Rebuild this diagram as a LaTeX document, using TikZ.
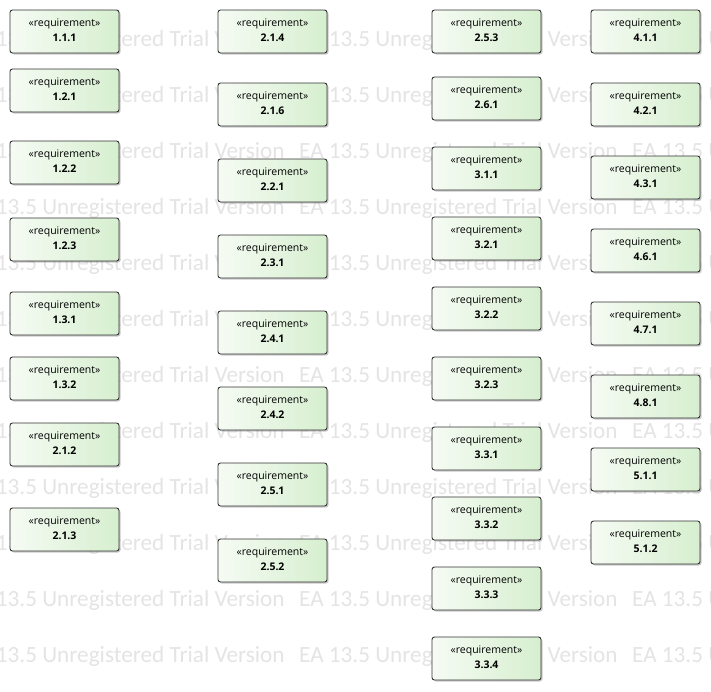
\documentclass[tikz,border=0pt]{standalone}
\usepackage{fontspec}
\setmainfont{Open Sans}
\newfontfamily\wmfont{Carlito}
\usetikzlibrary{shadows}
\definecolor{wmgray}{RGB}{229,227,227}
\definecolor{boxleft}{RGB}{246,251,244}
\definecolor{boxright}{RGB}{214,239,207}
\definecolor{boxline}{RGB}{50,50,50}
\tikzset{
  req/.style={rectangle, rounded corners=2.5pt, draw=boxline, line width=0.9pt,
    left color=boxleft, right color=boxright,
    minimum width=109pt, minimum height=43pt, inner sep=0pt,
    font=\fontsize{10.5}{15}\selectfont,
    drop shadow={shadow xshift=1.5pt, shadow yshift=-1.5pt, opacity=0.35, fill=black!60}},
  wm/.style={anchor=west, inner sep=0pt, text=wmgray, font=\wmfont\fontsize{23.2}{25}\selectfont}
}
\renewcommand\arraystretch{1}
\newcommand\reqbox[3]{\node[req] (#1) at (#2)
  {\raisebox{-2.5pt}[0pt][0pt]{\begin{tabular}{@{}c@{}}«requirement»\\ \textbf{#3}\end{tabular}}};}
\begin{document}
\begin{tikzpicture}[x=1pt,y=-1pt]
\useasboundingbox (0,0) rectangle (711,691);
\begin{scope}
\clip (0,0) rectangle (711,691);
\foreach \r in {0,...,11}{
  \foreach \c in {0,1,2}{
    \node[wm] (wm\r c\c) at ({-34+333*\c},{40+56*\r}) {EA 13.5 Unregistered Trial Version};
  }
}
\end{scope}
% column 1
\reqbox{n111}{64.5,31.5}{1.1.1}
\reqbox{n121}{64.5,90.5}{1.2.1}
\reqbox{n122}{64.5,162.5}{1.2.2}
\reqbox{n123}{64.5,239.5}{1.2.3}
\reqbox{n131}{64.5,313.5}{1.3.1}
\reqbox{n132}{64.5,378.5}{1.3.2}
\reqbox{n212}{64.5,444.5}{2.1.2}
\reqbox{n213}{64.5,529.5}{2.1.3}
% column 2
\reqbox{n214}{272.5,31.5}{2.1.4}
\reqbox{n216}{272.5,104.5}{2.1.6}
\reqbox{n221}{272.5,180.5}{2.2.1}
\reqbox{n231}{272.5,256.5}{2.3.1}
\reqbox{n241}{272.5,332.5}{2.4.1}
\reqbox{n242}{272.5,408.5}{2.4.2}
\reqbox{n251}{272.5,484.5}{2.5.1}
\reqbox{n252}{272.5,560.5}{2.5.2}
% column 3
\reqbox{n253}{486.5,31.5}{2.5.3}
\reqbox{n261}{486.5,98.5}{2.6.1}
\reqbox{n311}{486.5,168.5}{3.1.1}
\reqbox{n321}{486.5,238.5}{3.2.1}
\reqbox{n322}{486.5,308.5}{3.2.2}
\reqbox{n323}{486.5,378.5}{3.2.3}
\reqbox{n331}{486.5,448.5}{3.3.1}
\reqbox{n332}{486.5,518.5}{3.3.2}
\reqbox{n333}{486.5,588.5}{3.3.3}
\reqbox{n334}{486.5,658.5}{3.3.4}
% column 4
\reqbox{n411}{645.5,31.5}{4.1.1}
\reqbox{n421}{645.5,104.5}{4.2.1}
\reqbox{n431}{645.5,177.5}{4.3.1}
\reqbox{n461}{645.5,250.5}{4.6.1}
\reqbox{n471}{645.5,323.5}{4.7.1}
\reqbox{n481}{645.5,396.5}{4.8.1}
\reqbox{n511}{645.5,469.5}{5.1.1}
\reqbox{n512}{645.5,542.5}{5.1.2}
\end{tikzpicture}
\end{document}
